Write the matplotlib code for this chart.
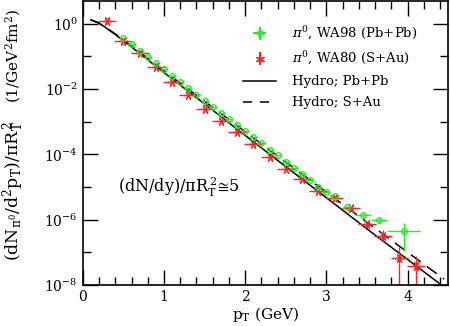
import matplotlib
matplotlib.use("Agg")
import matplotlib.pyplot as plt
from matplotlib.ticker import FixedLocator, MultipleLocator, FixedFormatter
from matplotlib.lines import Line2D

plt.rcParams['font.family'] = ['DejaVu Serif']
plt.rcParams['mathtext.fontset'] = 'dejavuserif'

# hydro curves
pt_hydro = [0.1, 0.2, 0.3, 0.4, 0.5, 0.6, 0.8, 1.0, 1.2, 1.5, 2.0, 2.5, 3.0, 3.5, 4.0, 4.4]
hydro_pbpb = [1.32, 1.05, 0.71, 0.47, 0.30, 0.195, 0.079, 0.032, 0.0132, 3.5e-3,
              3.8e-4, 4.2e-5, 4.7e-6, 5.2e-7, 6.0e-8, 1.07e-8]
pt_hydro_s = [0.1, 0.2, 0.3, 0.4, 0.5, 0.6, 0.8, 1.0, 1.2, 1.5, 2.0, 2.5, 3.0, 3.5, 4.0, 4.45]
hydro_sau = [1.32, 1.05, 0.72, 0.49, 0.32, 0.21, 0.087, 0.036, 0.0151, 4.2e-3,
             4.9e-4, 5.8e-5, 6.9e-6, 8.3e-7, 1.0e-7, 1.5e-8]

# WA98 pi0 Pb+Pb
pt_wa98 = [0.5, 0.6, 0.7, 0.8, 0.9, 1.0, 1.1, 1.2, 1.3, 1.4, 1.5, 1.6, 1.7, 1.8, 1.9,
           2.0, 2.1, 2.2, 2.3, 2.4, 2.5, 2.6, 2.7, 2.8, 2.9, 3.0, 3.1, 3.25, 3.45, 3.65, 3.95]
y_wa98 = [0.38, 0.24, 0.151, 0.095, 0.062, 0.040, 0.025, 0.0162, 0.0105, 6.8e-3,
          4.4e-3, 2.8e-3, 1.8e-3, 1.2e-3, 7.8e-4, 5.1e-4, 3.3e-4, 2.2e-4, 1.4e-4, 9.3e-5,
          6.0e-5, 3.8e-5, 2.5e-5, 1.6e-5, 1.0e-5, 7.1e-6, 5.4e-6, 2.5e-6, 1.35e-6, 9.5e-7, 4.4e-7]
xerr_wa98 = [0.05] * 27 + [0.05, 0.1, 0.1, 0.2]
yerr_wa98 = [0.0] * 27 + [2e-7, 2e-7, 1.5e-7, 3.3e-7]

# WA80 pi0 S+Au
pt_wa80 = [0.3, 0.5, 0.7, 0.9, 1.1, 1.3, 1.5, 1.7, 1.9, 2.1, 2.3, 2.5, 2.7, 2.9,
           3.1, 3.3, 3.5, 3.7, 3.9, 4.1]
y_wa80 = [1.2, 0.30, 0.129, 0.046, 0.017, 6.8e-3, 2.5e-3, 1.07e-3, 4.7e-4, 2.1e-4,
          8.5e-5, 3.5e-5, 1.8e-5, 7.8e-6, 4.5e-6, 2.2e-6, 7.1e-7, 3.1e-7, 6.5e-8, 3.7e-8]
xerr_wa80 = [0.11] * 20
yerr_lo_wa80 = [0.0] * 15 + [3e-7, 1.5e-7, 1.0e-7, 6.49e-8, 3.69e-8]
yerr_hi_wa80 = [0.0] * 15 + [3e-7, 1.5e-7, 1.6e-7, 7.7e-8, 4.2e-8]

green = '#22ee22'
red = '#ff2222'

fig = plt.figure(figsize=(4.5, 3.26), dpi=100)
ax = fig.add_axes([0.184, 0.126, 0.812, 0.871])

ax.plot(pt_hydro, hydro_pbpb, color='black', lw=1.1)
ax.plot(pt_hydro_s, hydro_sau, color='black', lw=1.1, dashes=(8, 5))

ax.errorbar(pt_wa98, y_wa98, xerr=xerr_wa98, yerr=yerr_wa98, fmt='o', ms=4,
            mfc='none', mec=green, mew=1.0, ecolor=green, elinewidth=1.0, capsize=0)
ax.errorbar(pt_wa80, y_wa80, xerr=xerr_wa80, yerr=[yerr_lo_wa80, yerr_hi_wa80],
            fmt='none', ecolor=red, elinewidth=1.0, capsize=0)
ax.plot(pt_wa80, y_wa80, ls='none', marker=(6, 2, 90), ms=6.5, mec=red, mew=0.9)

ax.set_yscale('log')
ax.set_xlim(0, 4.5)
ax.set_ylim(1e-8, 5)

ax.xaxis.set_major_locator(MultipleLocator(1))
ax.xaxis.set_minor_locator(MultipleLocator(0.2))
ax.yaxis.set_major_locator(FixedLocator([1e-8, 1e-6, 1e-4, 1e-2, 1e0]))
ax.yaxis.set_major_formatter(FixedFormatter([r'$10^{-8}$', r'$10^{-6}$', r'$10^{-4}$',
                                             r'$10^{-2}$', r'$10^{0}$']))
ax.yaxis.set_minor_locator(FixedLocator([1e-7, 1e-5, 1e-3, 1e-1]))
ax.yaxis.set_minor_formatter(FixedFormatter(['', '', '', '']))

ax.tick_params(which='both', direction='in', top=True, right=True, labelsize=10)
ax.tick_params(which='major', length=11, width=1)
ax.tick_params(which='minor', length=6, width=1)
for s in ax.spines.values():
    s.set_linewidth(1.2)

ax.set_xlabel(r'$\mathrm{p_T}$ (GeV)', fontsize=11, labelpad=1)
# y label in two pieces, like the original
fig.text(0.03, 0.415, r'$(\mathrm{dN_{\pi^0}/d^2p_T)/\pi R_T^{\,2}}$', rotation=90,
         fontsize=12.5, ha='center', va='center')
fig.text(0.03, 0.83, r'$(1/\mathrm{GeV^2fm^2})$', rotation=90,
         fontsize=11, ha='center', va='center')

ax.text(0.43, 1e-5, r'$\mathrm{(dN/dy)/\pi R_T^{\,2}}\!\cong\!5$', fontsize=11.5,
        va='center', ha='left')

h_wa98 = ax.errorbar([], [], xerr=[], yerr=[], fmt='o', ms=4, mfc='none', mec=green,
                     ecolor=green, capsize=0)
h_wa80 = ax.errorbar([], [], yerr=[], fmt='none', ecolor=red, capsize=0)
h_wa80_m = Line2D([], [], ls='none', marker=(6, 2, 0), ms=6.5, mec=red, mew=0.9)
handles = [
    h_wa98,
    (h_wa80, h_wa80_m),
    Line2D([], [], color='black', lw=1.1),
    Line2D([], [], color='black', lw=1.1, dashes=(6, 5)),
]
labels = [r'$\pi^0$, WA98 (Pb+Pb)', r'$\pi^0$, WA80 (S+Au)', 'Hydro; Pb+Pb', 'Hydro; S+Au']
ax.legend(handles, labels, loc='upper left', bbox_to_anchor=(0.425, 0.935),
          borderaxespad=0, frameon=False, fontsize=9.5, handlelength=2.5,
          labelspacing=0.6, handletextpad=1.2)

fig.savefig('out.png', dpi=100)
